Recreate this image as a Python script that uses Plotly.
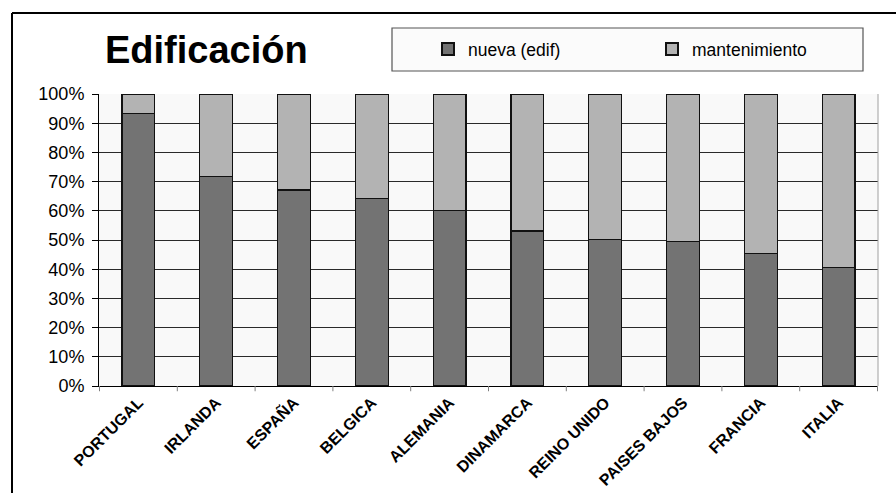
import plotly.graph_objects as go

# Cuota de la edificación nueva frente al mantenimiento por país (%)
paises = ["PORTUGAL", "IRLANDA", "ESPAÑA", "BELGICA", "ALEMANIA",
          "DINAMARCA", "REINO UNIDO", "PAISES BAJOS", "FRANCIA", "ITALIA"]
nueva = [93.2, 71.7, 67.1, 64.2, 60.0, 53.1, 50.1, 49.5, 45.4, 40.5]
mantenimiento = [round(100 - v, 1) for v in nueva]

y_ticks = list(range(0, 101, 10))
y_tick_text = [f"{v}%" for v in y_ticks]

FONT = "Liberation Sans, Arial, sans-serif"
W, H = 896, 493
L, R, T, B = 99, 18, 94, 107
PW, PH = W - L - R, H - T - B

fig = go.Figure()
fig.add_trace(go.Bar(
    x=paises, y=nueva, name="nueva (edif)",
    marker=dict(color="#737373", line=dict(color="#111111", width=1.2)),
))
fig.add_trace(go.Bar(
    x=paises, y=mantenimiento, name="mantenimiento",
    marker=dict(color="#b3b3b3", line=dict(color="#111111", width=1.2)),
))

fig.update_layout(
    barmode="stack",
    bargap=0.58,
    width=W, height=H,
    margin=dict(l=L, r=R, t=T, b=B, autoexpand=False),
    paper_bgcolor="#ffffff",
    plot_bgcolor="#f9f9f9",
    font=dict(family=FONT, color="#000000"),
    showlegend=True,
    legend=dict(
        orientation="h",
        traceorder="normal",
        xref="container", yref="container",
        x=428 / W, xanchor="left",
        y=1 - 49 / H, yanchor="middle",
        bgcolor="rgba(0,0,0,0)",
        font=dict(size=17.5, family=FONT),
        entrywidth=179,
        itemsizing="constant",
    ),
    xaxis=dict(
        type="category",
        automargin=False,
        tickangle=-45,
        tickfont=dict(size=16, family=FONT, weight="bold"),
        showgrid=False,
        showline=True, linecolor="#000000", linewidth=1,
        ticks="",
        zeroline=False,
    ),
    yaxis=dict(
        range=[0, 100],
        automargin=False,
        tickvals=y_ticks,
        ticktext=y_tick_text,
        tickfont=dict(size=18, family=FONT),
        ticks="outside", ticklen=6, tickcolor="#000000",
        ticklabelstandoff=4,
        showgrid=True, gridcolor="#2a2a2a", gridwidth=1,
        showline=True, linecolor="#000000", linewidth=1,
        zeroline=False,
    ),
    shapes=[
        # marco exterior del gráfico (arriba e izquierda)
        dict(type="line", xref="paper", yref="paper",
             x0=(12 - L) / PW, x1=(W + 10 - L) / PW,
             y0=(H - B - 13) / PH, y1=(H - B - 13) / PH,
             line=dict(color="#000000", width=2)),
        dict(type="line", xref="paper", yref="paper",
             x0=(12 - L) / PW, x1=(12 - L) / PW,
             y0=(H - B - 13) / PH, y1=(H - B - H - 10) / PH,
             line=dict(color="#000000", width=2)),
        # borde derecho del área de trazado
        dict(type="line", xref="paper", yref="paper",
             x0=1, x1=1, y0=0, y1=1,
             line=dict(color="#a0a0a0", width=1)),
        # recuadro de la leyenda
        dict(type="rect", xref="paper", yref="paper",
             x0=(392 - L) / PW, x1=(863 - L) / PW,
             y0=(H - B - 71) / PH, y1=(H - B - 28) / PH,
             line=dict(color="#555555", width=1.2),
             fillcolor="#fbfbfb", layer="below"),
    ],
    annotations=[
        dict(text="<b>Edificación</b>", xref="paper", yref="paper",
             x=(206 - L) / PW, y=(H - B - 50) / PH,
             xanchor="center", yanchor="middle", showarrow=False,
             font=dict(size=38, family=FONT, color="#000000")),
    ],
)

# marcas del eje X entre categorías
for i in range(len(paises) + 1):
    fig.add_shape(type="line", xref="x", yref="paper",
                  x0=i - 0.5, x1=i - 0.5, y0=0, y1=-0.018,
                  line=dict(color="#808080", width=1))

fig.write_html("out.html")
